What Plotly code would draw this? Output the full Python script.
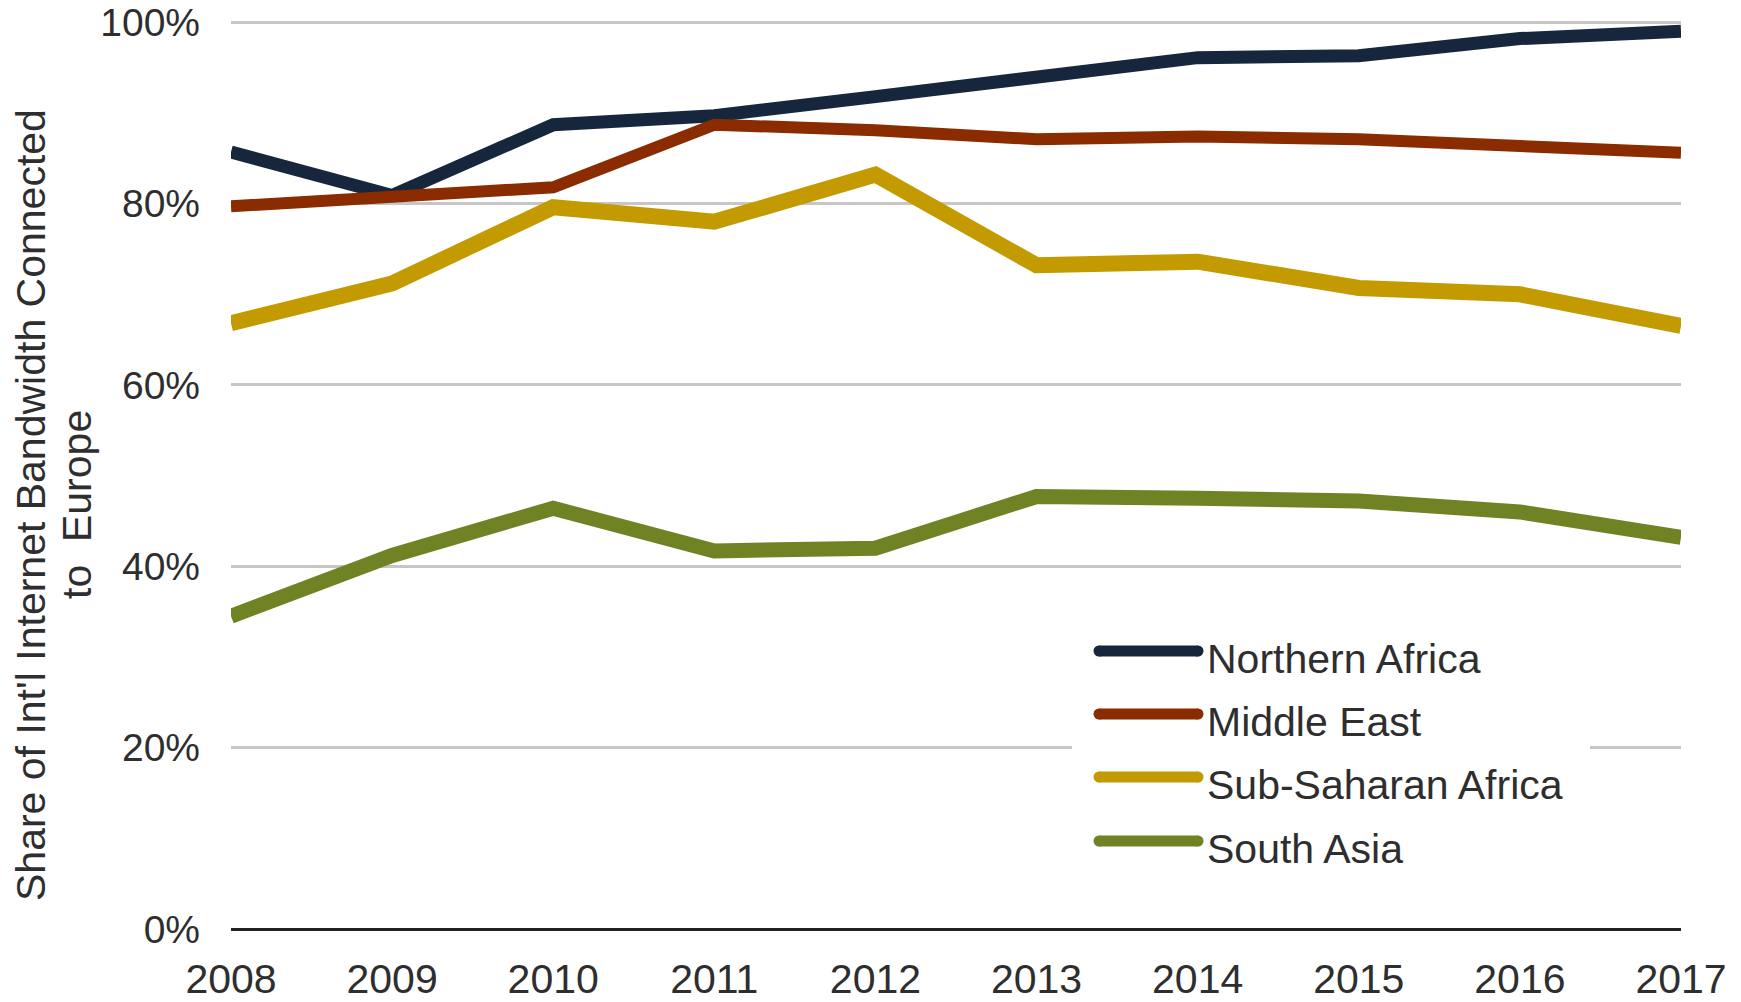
import plotly.graph_objects as go

years = [2008, 2009, 2010, 2011, 2012, 2013, 2014, 2015, 2016, 2017]
northern_africa = [85.7, 80.9, 88.7, 89.7, 91.8, 94.0, 96.1, 96.3, 98.2, 99.0]
middle_east = [79.7, 80.8, 81.8, 88.7, 88.1, 87.1, 87.4, 87.1, 86.5, 85.6]
sub_saharan = [66.8, 71.2, 79.6, 78.0, 83.2, 73.2, 73.6, 70.7, 70.0, 66.5]
south_asia = [34.5, 41.2, 46.4, 41.7, 42.0, 47.7, 47.5, 47.2, 46.0, 43.2]

series_names = ["Northern Africa", "Middle East", "Sub-Saharan Africa", "South Asia"]
series_values = [northern_africa, middle_east, sub_saharan, south_asia]
colors = ["#15263d", "#8a2b00", "#c39a00", "#6f8224"]
widths = [13, 12, 16, 15]

y_tickvals = [0, 20, 40, 60, 80, 100]
y_ticktext = ["0%", "20%", "40%", "60%", "80%", "100%"]

FONT = "Helvetica Neue, Liberation Sans, Arial, sans-serif"
TXT = "#2e2e2e"
W, H = 1741, 1002
L, R, T, B = 231, 60, 20, 73
PW, PH = W - L - R, H - T - B

def px(xp):
    return (xp - L) / PW

def py(yp):
    return (H - B - yp) / PH

fig = go.Figure()
for name, vals, c, w in zip(series_names, series_values, colors, widths):
    fig.add_trace(go.Scatter(x=years, y=vals, mode="lines", name=name,
                             line=dict(color=c, width=w), showlegend=False,
                             hoverinfo="skip"))

shapes = [dict(type="rect", xref="paper", yref="paper", x0=px(1072), x1=px(1590),
               y0=py(885), y1=py(615), fillcolor="white", line=dict(width=0), layer="above")]
annotations = []
legend_rows = [651, 714, 777, 841]
LW = 11
x_start, x_end = 1099, 1198
for name, c, yrow in zip(series_names, colors, legend_rows):
    shapes.append(dict(type="line", xref="paper", yref="paper", x0=px(x_start), x1=px(x_end),
                       y0=py(yrow), y1=py(yrow), line=dict(color=c, width=LW), layer="above"))
    for xc in (x_start, x_end):
        shapes.append(dict(type="circle", xref="paper", yref="paper",
                           x0=px(xc - LW / 2), x1=px(xc + LW / 2),
                           y0=py(yrow + LW / 2), y1=py(yrow - LW / 2),
                           fillcolor=c, line=dict(width=0), layer="above"))
    annotations.append(dict(text=name, xref="paper", yref="paper", x=px(1205), y=py(yrow + 8),
                            xanchor="left", yanchor="middle", showarrow=False,
                            font=dict(family=FONT, size=41, color=TXT)))

annotations.append(dict(text="Share of Int'l Internet Bandwidth Connected",
                        xref="paper", yref="paper", x=px(31), y=py(505), textangle=-90,
                        xanchor="center", yanchor="middle", showarrow=False,
                        font=dict(family=FONT, size=41, color=TXT)))
annotations.append(dict(text="to  Europe",
                        xref="paper", yref="paper", x=px(77), y=py(505), textangle=-90,
                        xanchor="center", yanchor="middle", showarrow=False,
                        font=dict(family=FONT, size=41, color=TXT)))

fig.update_layout(
    width=W, height=H,
    margin=dict(l=L, r=R, t=T, b=B, pad=0, autoexpand=False),
    paper_bgcolor="white", plot_bgcolor="white",
    font=dict(family=FONT, size=40, color=TXT),
    shapes=shapes, annotations=annotations,
    xaxis=dict(range=[2008, 2017], tickvals=years, ticktext=[str(y) for y in years],
               showgrid=False, zeroline=False, showline=False, ticks="", automargin=False,
               ticklabelstandoff=22, tickfont=dict(size=41)),
    yaxis=dict(range=[0, 100.25], tickvals=y_tickvals, ticktext=y_ticktext,
               showgrid=True, gridcolor="#c6c6c6", gridwidth=2.5, automargin=False,
               zeroline=True, zerolinecolor="#222222", zerolinewidth=3,
               showline=False, ticks="", ticklabelstandoff=30, tickfont=dict(size=39)),
    showlegend=False,
    hovermode=False,
)

fig.write_html(
    "out.html",
    config={"displayModeBar": False},
    post_script="document.body.style.margin='0';document.body.style.overflow='hidden';",
)
